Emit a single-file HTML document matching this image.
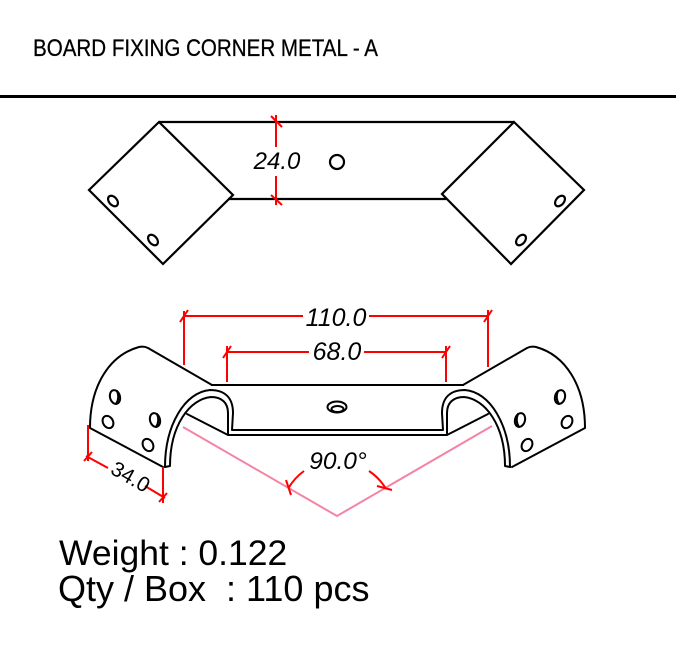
<!DOCTYPE html>
<html>
<head>
<meta charset="utf-8">
<style>
  html,body{margin:0;padding:0;background:#fff;}
  body{width:676px;height:650px;overflow:hidden;}
  svg{display:block;}
  text{font-family:"Liberation Sans",Arial,sans-serif;fill:#000;}
</style>
</head>
<body>
<svg width="676" height="650" viewBox="0 0 676 650" xmlns="http://www.w3.org/2000/svg">
  <!-- Header -->
  <text x="33" y="56" font-size="24.5" textLength="345" lengthAdjust="spacingAndGlyphs" stroke="#000" stroke-width="0.3">BOARD FIXING CORNER METAL - A</text>
  <rect x="0" y="95" width="676" height="3" fill="#000"/>

  <!-- Top view -->
  <g fill="none" stroke="#000" stroke-width="2.2" stroke-linejoin="miter">
    <line x1="159" y1="122" x2="514" y2="122"/>
    <polygon points="159,122 233,195 163,264 89,190"/>
    <polygon points="514,122 584,190 511,264 442,194"/>
    <line x1="228" y1="199" x2="446" y2="199"/>
    <circle cx="337" cy="162" r="7"/>
    <ellipse cx="113" cy="201" rx="4" ry="6" transform="rotate(-40 113 201)"/>
    <ellipse cx="153" cy="240" rx="4" ry="6" transform="rotate(-40 153 240)"/>
    <ellipse cx="560" cy="201" rx="4" ry="6" transform="rotate(40 560 201)"/>
    <ellipse cx="521" cy="240" rx="4" ry="6" transform="rotate(40 521 240)"/>
  </g>
  <!-- 24.0 dimension -->
  <g stroke="#ff0000" stroke-width="2" fill="none">
    <line x1="276" y1="115" x2="276" y2="147"/>
    <line x1="276" y1="176" x2="276" y2="205"/>
    <line x1="271" y1="116" x2="282" y2="127"/>
    <line x1="271" y1="195" x2="282" y2="205"/>
  </g>
  <text x="277" y="169" font-size="24" font-style="italic" text-anchor="middle">24.0</text>

  <!-- Front / iso view -->
  <defs>
    <g id="rb" fill="none" stroke="#000" stroke-width="2" stroke-linejoin="round" stroke-linecap="round">
      <path d="M463,385 L527,348 Q531,346 536,347 C565,355 585,385 585,428 L512,467"/>
      <path d="M443,430 L442,413 C442,398 450,390 465,390 C490,392 510,425 510,467"/>
      <path d="M447,430 L447,413 C447,403 453,397 464,397 C485,399 505,425 505,466 L510,467"/>
      <path d="M447,435 L488,414"/>
      <ellipse cx="560" cy="397" rx="5" ry="7" transform="rotate(15 560 397)"/>
      <path d="M558,391 Q555,398 559,404" />
      <ellipse cx="520" cy="420" rx="5" ry="7" transform="rotate(15 520 420)"/>
      <path d="M518,414 Q515,421 519,427" />
      <ellipse cx="567" cy="422" rx="5" ry="6.5" transform="rotate(30 567 422)"/>
      <ellipse cx="527" cy="445" rx="5" ry="6.5" transform="rotate(30 527 445)"/>
    </g>
  </defs>
  <use href="#rb"/>
  <use href="#rb" transform="translate(675,0) scale(-1,1)"/>

  <g fill="none" stroke="#000" stroke-width="2">
    <line x1="211" y1="385" x2="464" y2="385"/>
    <line x1="232" y1="430" x2="443" y2="430"/>
    <line x1="228" y1="435" x2="447" y2="435"/>
    <line x1="228" y1="430" x2="228" y2="435"/>
    <line x1="447" y1="430" x2="447" y2="435"/>
    <ellipse cx="337" cy="407" rx="9.5" ry="5.5"/>
    <ellipse cx="337.5" cy="409" rx="6" ry="3"/>
  </g>

  <!-- pink angle lines -->
  <polyline points="183,427 337,516 492,426" fill="none" stroke="#f483a4" stroke-width="2"/>

  <!-- red dims -->
  <g stroke="#ff0000" stroke-width="2" fill="none">
    <line x1="184" y1="316" x2="303" y2="316"/>
    <line x1="369" y1="316" x2="488" y2="316"/>
    <line x1="184" y1="311" x2="184" y2="365"/>
    <line x1="488" y1="310" x2="488" y2="367"/>
    <line x1="180" y1="322" x2="188" y2="310"/>
    <line x1="484" y1="322" x2="492" y2="310"/>
    <line x1="227" y1="352" x2="309" y2="352"/>
    <line x1="364" y1="352" x2="446" y2="352"/>
    <line x1="227" y1="346" x2="227" y2="382"/>
    <line x1="446" y1="346" x2="446" y2="382"/>
    <line x1="223" y1="358" x2="231" y2="346"/>
    <line x1="442" y1="358" x2="450" y2="346"/>
    <line x1="88" y1="425" x2="88" y2="461"/>
    <line x1="163" y1="467" x2="163" y2="503"/>
    <line x1="86" y1="456" x2="108" y2="468"/>
    <line x1="145" y1="486" x2="165" y2="498"/>
    <line x1="84" y1="461" x2="92" y2="452"/>
    <line x1="159" y1="502" x2="167" y2="493"/>
    <path d="M288.5,488 A56,56 0 0 1 304,471"/>
    <path d="M369,471 A56,56 0 0 1 385.5,488"/>
    <line x1="286" y1="480" x2="291" y2="495"/>
    <line x1="377" y1="486" x2="392" y2="490"/>
  </g>

  <text x="336" y="326" font-size="25" font-style="italic" text-anchor="middle">110.0</text>
  <text x="337" y="360" font-size="25" font-style="italic" text-anchor="middle">68.0</text>
  <text x="338" y="469" font-size="24.5" font-style="italic" text-anchor="middle">90.0°</text>
  <text x="0" y="0" font-size="21" text-anchor="middle" transform="translate(127,483) rotate(29.6)">34.0</text>

  <text x="59" y="565" font-size="35.5">Weight : 0.122</text>
  <text x="58" y="601" font-size="36" xml:space="preserve" style="white-space:pre">Qty / Box  : 110 pcs</text>
</svg>
</body>
</html>
